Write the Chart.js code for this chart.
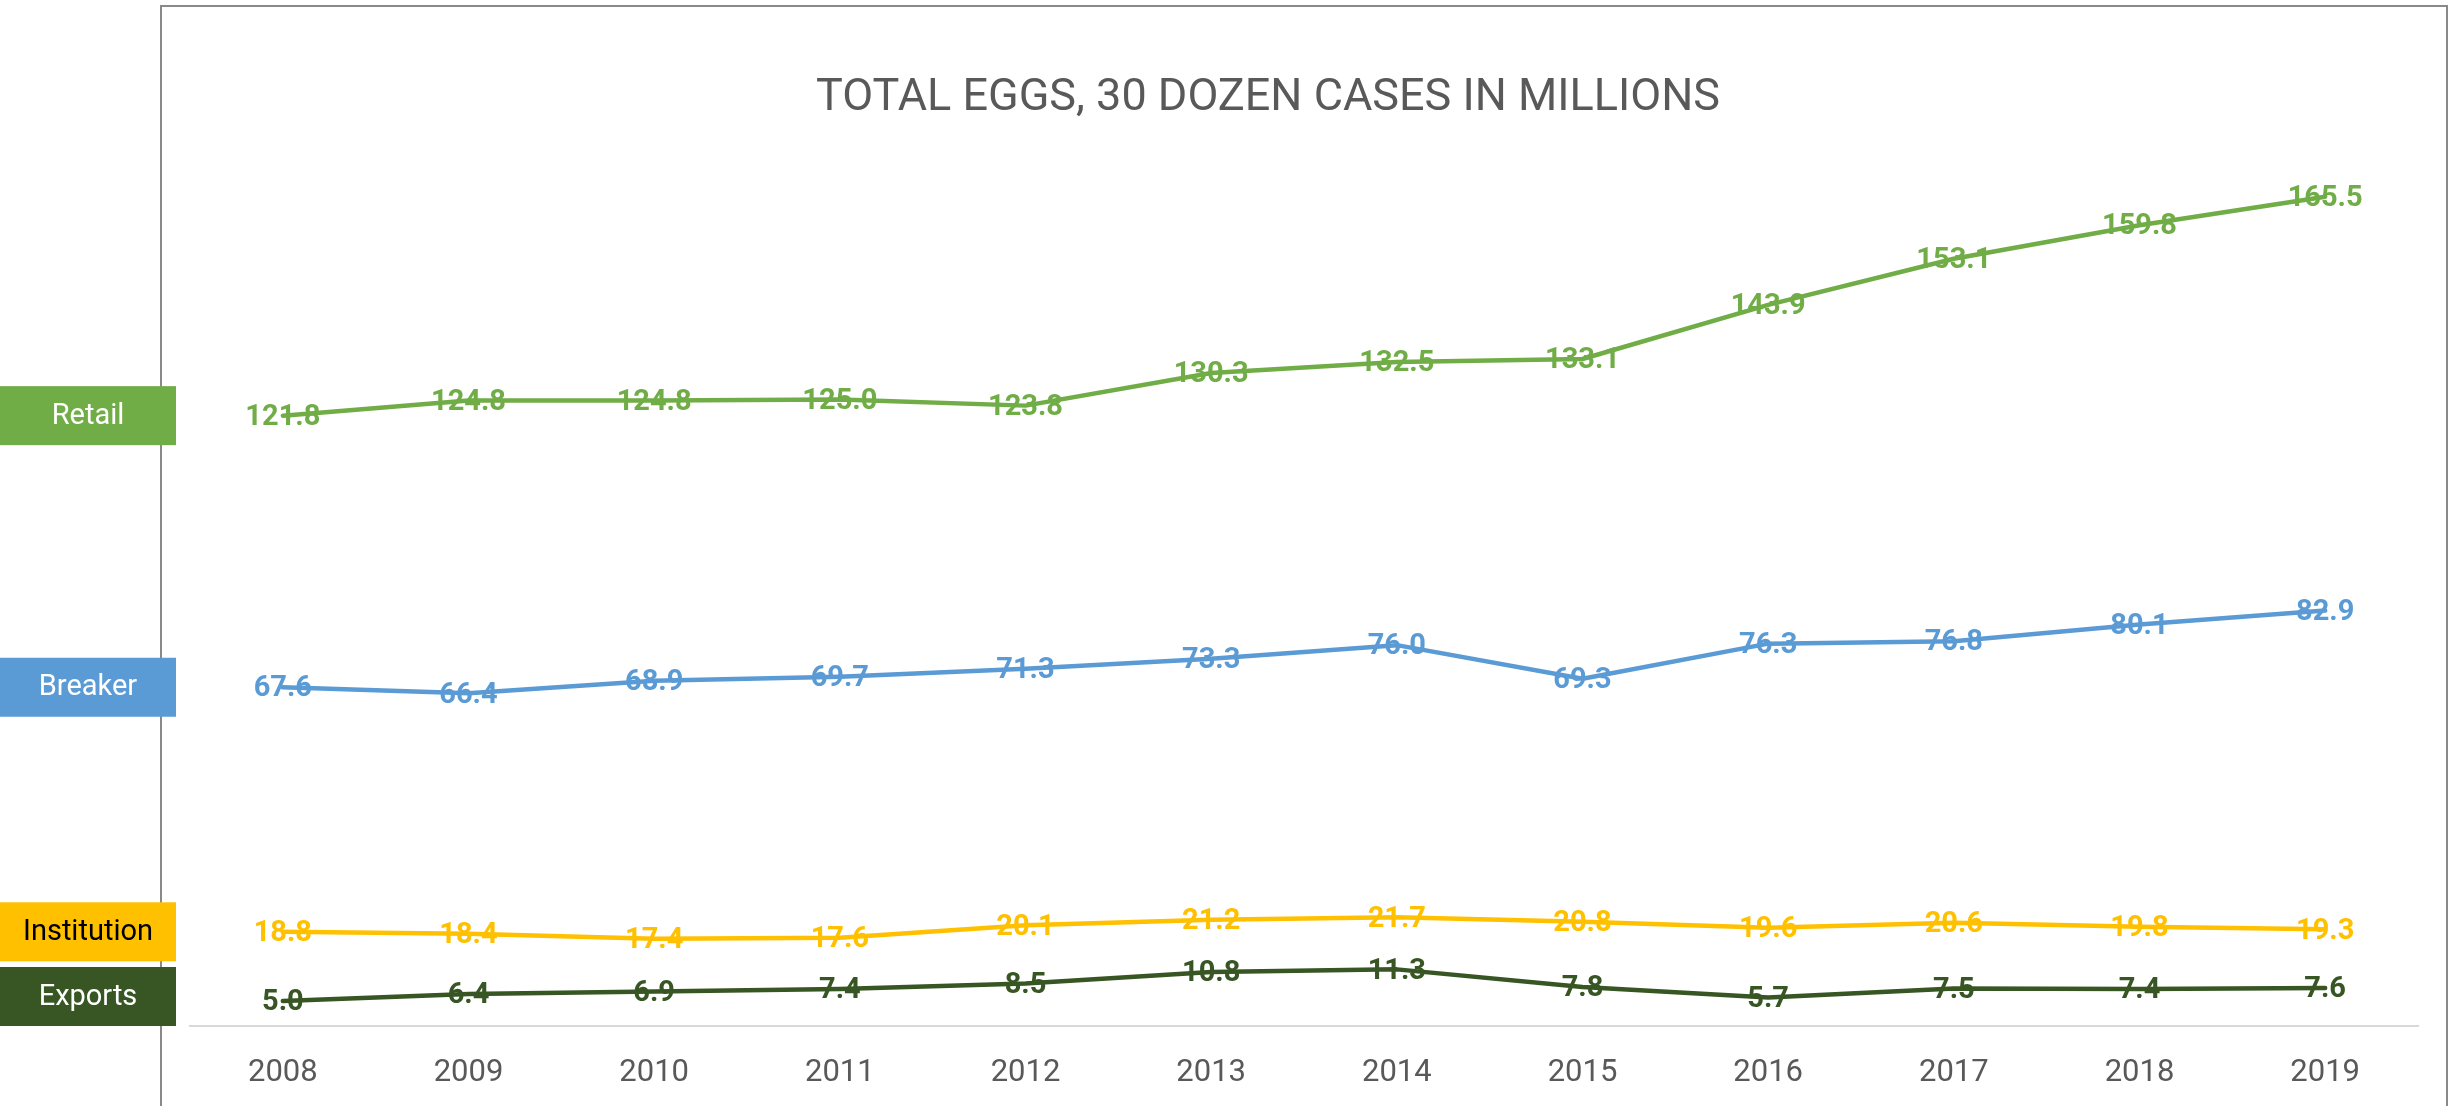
<!DOCTYPE html>
<html><head><meta charset="utf-8">
<script src="https://cdn.jsdelivr.net/npm/chart.js@4/dist/chart.umd.min.js"></script>
<style>html,body{margin:0;padding:0;background:#fff;overflow:hidden}#wrap{width:2458px;height:1106px;position:relative}</style>
</head><body><div id="wrap"><canvas id="c" width="2458" height="1106"></canvas></div>
<script>
const years = ['2008','2009','2010','2011','2012','2013','2014','2015','2016','2017','2018','2019'];
const retail = [121.8,124.8,124.8,125.0,123.8,130.3,132.5,133.1,143.9,153.1,159.8,165.5];
const breaker = [67.6,66.4,68.9,69.7,71.3,73.3,76.0,69.3,76.3,76.8,80.1,82.9];
const institution = [18.8,18.4,17.4,17.6,20.1,21.2,21.7,20.8,19.6,20.6,19.8,19.3];
const exportsData = [5.0,6.4,6.9,7.4,8.5,10.8,11.3,7.8,5.7,7.5,7.4,7.6];
const seriesNames = ['Retail','Breaker','Institution','Exports'];
const seriesColors = ['#70AD47','#5B9BD5','#FFC000','#375623'];
const boxTextColors = ['#FFFFFF','#FFFFFF','#000000','#FFFFFF'];
const titleText = 'TOTAL EGGS, 30 DOZEN CASES IN MILLIONS';
const yMin = 0, yMax = 180;

const seriesData = [retail, breaker, institution, exportsData];

const framePlugin = {
  id: 'frame',
  beforeDraw(chart) {
    const ctx = chart.ctx;
    ctx.save();
    ctx.fillStyle = '#FFFFFF';
    ctx.fillRect(0, 0, chart.width, chart.height);
    ctx.strokeStyle = '#898989';
    ctx.lineWidth = 2;
    ctx.strokeRect(161, 6, 2447 - 161, chart.height + 20);
    ctx.fillStyle = '#595959';
    ctx.font = '45px Roboto';
    ctx.textAlign = 'center';
    ctx.textBaseline = 'alphabetic';
    ctx.fillText(titleText, 1268, 110);
    ctx.restore();
  }
};

const labelsPlugin = {
  id: 'valueLabels',
  afterDatasetsDraw(chart) {
    const ctx = chart.ctx;
    const yScale = chart.scales.y;
    const area = chart.chartArea;
    ctx.save();
    const boxH = 59, boxW = 176;
    chart.data.datasets.forEach((ds, i) => {
      const cy = yScale.getPixelForValue(ds.data[0]);
      let top = cy - boxH / 2;
      if (top + boxH > area.bottom) top = area.bottom - boxH;
      ctx.fillStyle = seriesColors[i];
      ctx.fillRect(0, top, boxW, boxH);
      ctx.fillStyle = boxTextColors[i];
      ctx.font = '29px Roboto';
      ctx.textAlign = 'center';
      ctx.textBaseline = 'middle';
      ctx.fillText(seriesNames[i], boxW / 2, top + boxH / 2 + 1);
    });
    chart.data.datasets.forEach((ds, i) => {
      const meta = chart.getDatasetMeta(i);
      ctx.fillStyle = seriesColors[i];
      ctx.font = 'bold 29px Roboto';
      ctx.textAlign = 'center';
      ctx.textBaseline = 'middle';
      meta.data.forEach((pt, j) => {
        ctx.fillText(ds.data[j].toFixed(1), pt.x, pt.y + 2);
      });
    });
    ctx.restore();
  }
};

new Chart(document.getElementById('c'), {
  type: 'line',
  data: {
    labels: years,
    datasets: seriesNames.map((n, i) => ({
      label: n,
      data: seriesData[i],
      borderColor: seriesColors[i],
      backgroundColor: seriesColors[i],
      borderWidth: 4.5,
      pointRadius: 0,
      tension: 0,
      borderJoinStyle: 'round',
      borderCapStyle: 'round'
    }))
  },
  options: {
    responsive: false,
    devicePixelRatio: 1,
    animation: false,
    layout: { padding: { left: 190, right: 40, top: 124, bottom: 0 } },
    plugins: { legend: { display: false }, title: { display: false }, tooltip: { enabled: false } },
    scales: {
      x: {
        type: 'category',
        offset: true,
        grid: { display: false, drawTicks: false },
        border: { display: true, color: '#D9D9D9', width: 2 },
        ticks: { color: '#595959', font: { family: 'Roboto', size: 31 }, padding: 29 },
        afterFit(scale) { scale.height = 80; }
      },
      y: { display: false, min: yMin, max: yMax }
    }
  },
  plugins: [framePlugin, labelsPlugin]
});
</script>
</body></html>
